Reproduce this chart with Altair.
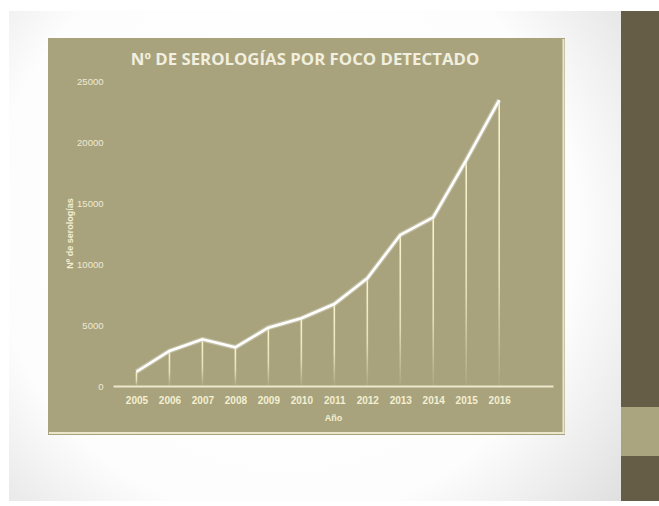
import altair as alt
import pandas as pd

years = [2005, 2006, 2007, 2008, 2009, 2010, 2011, 2012, 2013, 2014, 2015, 2016]
serologias = [1170, 2870, 3830, 3170, 4780, 5550, 6720, 8830, 12380, 13830, 18520, 23440]
y_ticks = [0, 5000, 10000, 15000, 20000, 25000]
title_text = "Nº DE SEROLOGÍAS POR FOCO DETECTADO"
x_title = "Año"
y_title = "Nº de serologías"

df = pd.DataFrame({"year": years, "value": serologias})
one = pd.DataFrame({"t": [title_text]})

PANEL = "#a9a37d"
STRIP = "#665d46"
CREAM = "#f3efd2"

xs = alt.Scale(domain=[2004.44, 2017.48], nice=False, zero=False)
ys = alt.Scale(domain=[0, 25000], nice=False)

base = alt.Chart(one)

page = base.mark_rect(
    color={"gradient": "radial", "x1": 0.45, "y1": 0.45, "r1": 0.0,
           "x2": 0.45, "y2": 0.45, "r2": 0.8,
           "stops": [{"offset": 0, "color": "#ffffff"},
                     {"offset": 0.6, "color": "#fdfdfd"},
                     {"offset": 1, "color": "#d4d4d4"}]}
).encode(x=alt.value(-104), x2=alt.value(508), y=alt.value(-70), y2=alt.value(420))

strip = base.mark_rect(color=STRIP).encode(
    x=alt.value(508), x2=alt.value(546), y=alt.value(-70), y2=alt.value(420))
band = base.mark_rect(color="#aaa57e").encode(
    x=alt.value(508), x2=alt.value(546), y=alt.value(326), y2=alt.value(375))

panel = base.mark_rect(color=PANEL).encode(
    x=alt.value(-65), x2=alt.value(452), y=alt.value(-43), y2=alt.value(354))
edge_r = base.mark_rect(color="#e9e6cc").encode(
    x=alt.value(449.5), x2=alt.value(451.5), y=alt.value(-42), y2=alt.value(353))
edge_b = base.mark_rect(color="#e9e6cc").encode(
    x=alt.value(-64), x2=alt.value(451.5), y=alt.value(351), y2=alt.value(353))

title = base.mark_text(
    font="Open Sans", fontWeight="bold", fontSize=16.8, color="#f1efdf",
    align="center", baseline="alphabetic"
).encode(x=alt.value(192), y=alt.value(-16.5), text="t:N")

x_axis = alt.Axis(values=years, format="d", title=x_title,
                  labelColor=CREAM, labelFont="Liberation Sans",
                  labelFontSize=10, labelFontWeight="bold",
                  labelOverlap=False, labelBound=False, labelFlush=False,
                  labelPadding=9, ticks=False, grid=False,
                  domainColor="#ece8cc", domainWidth=2,
                  titleColor=CREAM, titleFont="Liberation Sans",
                  titleFontSize=9, titleFontWeight="bold",
                  titleY=31, titleBaseline="middle", zindex=1)
y_axis = alt.Axis(values=y_ticks, format="d", title=y_title,
                  labelColor="#eeead4", labelFont="Liberation Sans",
                  labelFontSize=9.5, labelPadding=10, ticks=False,
                  grid=False, domain=False,
                  titleColor=CREAM, titleFont="Liberation Sans",
                  titleFontSize=9, titleFontWeight="bold",
                  titleAngle=270, titleX=-44, titleY=152,
                  titleBaseline="middle", titleAlign="center", zindex=1)

drops = alt.Chart(df).mark_bar(
    size=1.6,
    color={"gradient": "linear", "x1": 0, "y1": 0, "x2": 0, "y2": 1,
           "stops": [{"offset": 0, "color": "rgba(250,244,205,1)"},
                     {"offset": 0.6, "color": "rgba(250,244,205,0.75)"},
                     {"offset": 1, "color": "rgba(250,244,205,0.05)"}]}
).encode(
    x=alt.X("year:Q", scale=xs, axis=x_axis),
    y=alt.Y("value:Q", scale=ys, axis=y_axis),
    y2=alt.datum(0),
)

glow = alt.Chart(df).mark_line(color="#d9d7c6", strokeWidth=5, opacity=0.55).encode(
    x=alt.X("year:Q", scale=xs, axis=x_axis), y=alt.Y("value:Q", scale=ys, axis=y_axis))
line = alt.Chart(df).mark_line(color="#ffffff", strokeWidth=2.6).encode(
    x=alt.X("year:Q", scale=xs, axis=x_axis), y=alt.Y("value:Q", scale=ys, axis=y_axis))

chart = alt.layer(page, strip, band, panel, edge_r, edge_b, drops, glow, line, title).properties(
    width=440, height=305,
    autosize=alt.AutoSizeParams(type="none"),
    padding={"left": 113, "top": 81, "right": 106, "bottom": 120},
    background="#ffffff",
).configure_view(strokeWidth=0, fill=None).configure_axis(labelOverlap=False)

chart.save("out.html", embed_options={"renderer": "svg", "actions": False})
